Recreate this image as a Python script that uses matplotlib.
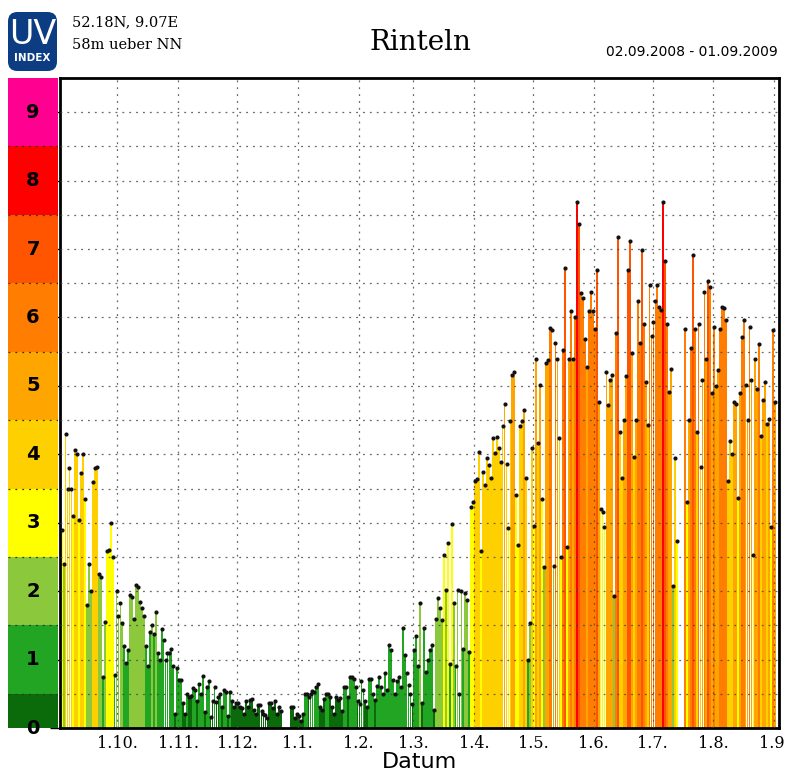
import numpy as np
import matplotlib
matplotlib.use("Agg")
import matplotlib.pyplot as plt
from matplotlib.patches import FancyBboxPatch

nan = np.nan

# daily UV index maximum, 02.09.2008 - 01.09.2009 (one list per month)
sep08 = [2.9, 2.4, 4.3, 3.5, 3.8, 3.5, 3.1, 4.07, 4.0, 3.04, 3.72, 4.0, 3.35, 1.8, 2.4,
         2.0, 3.6, 3.8, 3.82, 2.25, 2.2, 0.75, 1.55, 2.58, 2.6, 3.0, 2.5, 0.77, 2.0]
oct08 = [1.63, 1.82, 1.53, 1.2, 0.95, 1.14, 1.95, 1.92, 1.6, 2.09, 2.06, 1.84, 1.75, 1.63,
         1.2, 0.9, 1.41, 1.5, 1.38, 1.7, 1.1, 1.0, 1.45, 1.28, 1.0, 1.09, 1.1, 1.16, 0.9,
         0.2, 0.87]
nov08 = [0.7, 0.7, 0.36, 0.2, 0.5, 0.45, 0.47, 0.58, 0.55, 0.4, 0.65, 0.5, 0.76, 0.23, 0.6,
         0.68, 0.16, 0.4, 0.6, 0.38, 0.45, 0.5, 0.3, 0.55, 0.53, 0.18, 0.53, 0.4, 0.3, 0.37]
dec08 = [0.36, 0.3, 0.29, 0.2, 0.39, 0.3, 0.41, 0.42, 0.27, 0.2, 0.34, 0.34, 0.25, 0.21,
         0.19, 0.15, 0.36, 0.36, 0.29, 0.39, 0.2, 0.31, 0.25, nan, nan, nan, nan, 0.31,
         0.31, 0.15, 0.2]
jan09 = [0.17, 0.1, 0.2, 0.5, 0.5, 0.45, 0.5, 0.54, 0.52, 0.6, 0.65, 0.3, 0.27, 0.43, 0.5,
         0.5, 0.45, 0.3, 0.21, 0.46, 0.41, 0.44, 0.25, 0.6, 0.6, 0.45, 0.75, 0.75, 0.72,
         0.6, 0.4]
feb09 = [0.35, 0.68, 0.55, 0.4, 0.3, 0.72, 0.72, 0.5, 0.41, 0.62, 0.75, 0.6, 0.5, 0.8, 0.55,
         1.21, 1.14, 0.7, 0.5, 0.68, 0.75, 0.6, 1.46, 1.07, 0.8, 0.63, 0.5, 0.35]
mar09 = [1.14, 1.34, 0.9, 1.82, 0.36, 1.46, 0.82, 1.0, 1.14, 1.21, 0.27, 1.6, 1.9, 1.75,
         1.58, 2.53, 2.02, 2.7, 0.94, 2.98, 1.82, 0.9, 2.01, 0.5, 2.0, 1.16, 1.97, 1.87,
         1.11, 3.23, 3.31]
apr09 = [3.61, 3.64, 4.04, 2.58, 3.74, 3.55, 3.95, 3.84, 3.65, 4.24, 4.02, 4.25, 4.09, 3.89,
         4.42, 4.74, 3.86, 2.93, 4.49, 5.16, 5.21, 3.41, 2.68, 4.42, 4.49, 4.65, 3.65, 1.0,
         1.54, 4.09]
may09 = [2.95, 5.4, 4.17, 5.01, 3.34, 2.35, 5.33, 5.38, 5.85, 5.81, 2.37, 5.62, 5.39, 4.24,
         2.5, 5.53, 6.73, 2.65, 5.39, 6.09, 5.4, 6.0, 7.69, 7.37, 6.36, 6.29, 5.68, 5.28,
         6.09, 6.37, 6.09]
jun09 = [5.83, 6.69, 4.76, 3.2, 3.16, 2.94, 5.21, 4.72, 5.09, 5.16, 1.93, 5.78, 7.17, 4.32,
         3.65, 4.5, 5.15, 6.69, 7.12, 5.48, 3.96, 4.5, 6.24, 5.63, 6.99, 5.91, 5.06, 4.43,
         6.47, 5.73]
jul09 = [5.93, 6.24, 6.47, 6.16, 6.11, 7.69, 6.82, 5.91, 4.91, 5.24, 2.07, 3.95, 2.73, nan,
         nan, nan, 5.83, 3.31, 4.5, 5.56, 6.92, 5.83, 4.32, 5.91, 3.81, 5.08, 6.37, 5.4,
         6.53, 6.44, 4.9]
aug09 = [5.86, 5.0, 5.23, 5.83, 6.16, 6.14, 5.96, 3.61, 4.2, 4.0, 4.77, 4.74, 3.36, 4.9,
         5.71, 5.97, 5.01, 4.5, 5.86, 5.08, 2.53, 5.4, 4.95, 5.61, 4.27, 4.8, 5.06, 4.44,
         4.52, 2.94, 5.81]
sep09 = [4.76]

months = [sep08, oct08, nov08, dec08, jan09, feb09, mar09, apr09, may09, jun09, jul09,
          aug09, sep09]
month_labels = ["1.10.", "1.11.", "1.12.", "1.1.", "1.2.", "1.3.", "1.4.", "1.5.",
                "1.6.", "1.7.", "1.8.", "1.9."]

uv_colors = ["#0b6b0b", "#22a522", "#8cc83c", "#ffff00", "#ffd000", "#ffa500",
             "#ff7d00", "#ff5500", "#ff0000", "#ff0090"]

uv = np.array([v for m in months for v in m], dtype=float)
days = np.arange(len(uv))
starts = np.cumsum([len(m) for m in months])[:-1]

fig = plt.figure(figsize=(7.85, 7.81), dpi=100)
W, H = 785, 781
ax = fig.add_axes([60 / W, 53 / H, 719 / W, 650 / H])
strip = fig.add_axes([8 / W, 53 / H, 50 / W, 650 / H])

ok = ~np.isnan(uv)
cols = [uv_colors[min(int(np.floor(v + 0.5)), 9)] for v in uv[ok]]
ax.bar(days[ok], uv[ok], width=0.93, color=cols, linewidth=0, zorder=2)
ax.scatter(days[ok], uv[ok], s=9, color="#111111", zorder=4, linewidths=0)

ax.set_xlim(-0.84, 366.05)
ax.set_ylim(0, 9.5)
ax.set_xticks(starts - 0.5)
ax.set_xticklabels(month_labels, family="DejaVu Serif", fontsize=11.5)
ax.tick_params(axis="x", length=0, pad=5)
ax.set_yticks(range(10))
ax.set_yticklabels([])
ax.tick_params(axis="y", direction="out", length=7, width=1)
for y in np.arange(0.5, 9.5, 0.5):
    ax.axhline(y, color="#444444", lw=0.9, ls=(0, (1.5, 4)), zorder=3, alpha=0.8)
for x in starts - 0.5:
    ax.axvline(x, color="#444444", lw=0.9, ls=(0, (1.5, 4)), zorder=3, alpha=0.8)
for s in ax.spines.values():
    s.set_linewidth(2)
ax.set_xlabel("Datum", family="Liberation Sans Narrow", fontsize=16, labelpad=0)

# colour legend strip
strip.set_xlim(0, 1)
strip.set_ylim(0, 9.5)
for k in range(10):
    strip.axhspan(max(k - 0.5, 0), k + 0.5, color=uv_colors[k], lw=0)
    strip.text(0.5, k, str(k), ha="center", va="center", fontsize=14,
               fontweight="bold", color="black")
for y in np.arange(0.5, 9.5, 1.0):
    strip.axhline(y, color="#333333", lw=0.9, ls=(0, (1.5, 4)))
strip.axis("off")

# header
logo = FancyBboxPatch((8 / W, 1 - 71 / H), 49 / W, 59 / H,
                      boxstyle="round,pad=0,rounding_size=0.012",
                      transform=fig.transFigure, facecolor="#0c3c82",
                      edgecolor="none")
fig.patches.append(logo)
fig.text(32.5 / W, 1 - 34 / H, "UV", color="white", fontsize=24, ha="center",
         va="center", family="DejaVu Sans")
fig.text(32.5 / W, 1 - 58 / H, "INDEX", color="white", fontsize=7.5, ha="center",
         va="center", family="DejaVu Sans", fontweight="bold")
fig.text(72 / W, 1 - 22 / H, "52.18N, 9.07E", fontsize=10.5, family="DejaVu Serif",
         va="center")
fig.text(72 / W, 1 - 45 / H, "58m ueber NN", fontsize=10.5, family="DejaVu Serif",
         va="center")
fig.text(420 / W, 1 - 42 / H, "Rinteln", fontsize=20, family="DejaVu Serif",
         ha="center", va="center")
fig.text(778 / W, 1 - 52 / H, "02.09.2008 - 01.09.2009", fontsize=10,
         family="DejaVu Sans", ha="right", va="center")

fig.savefig("out.png", dpi=100)
